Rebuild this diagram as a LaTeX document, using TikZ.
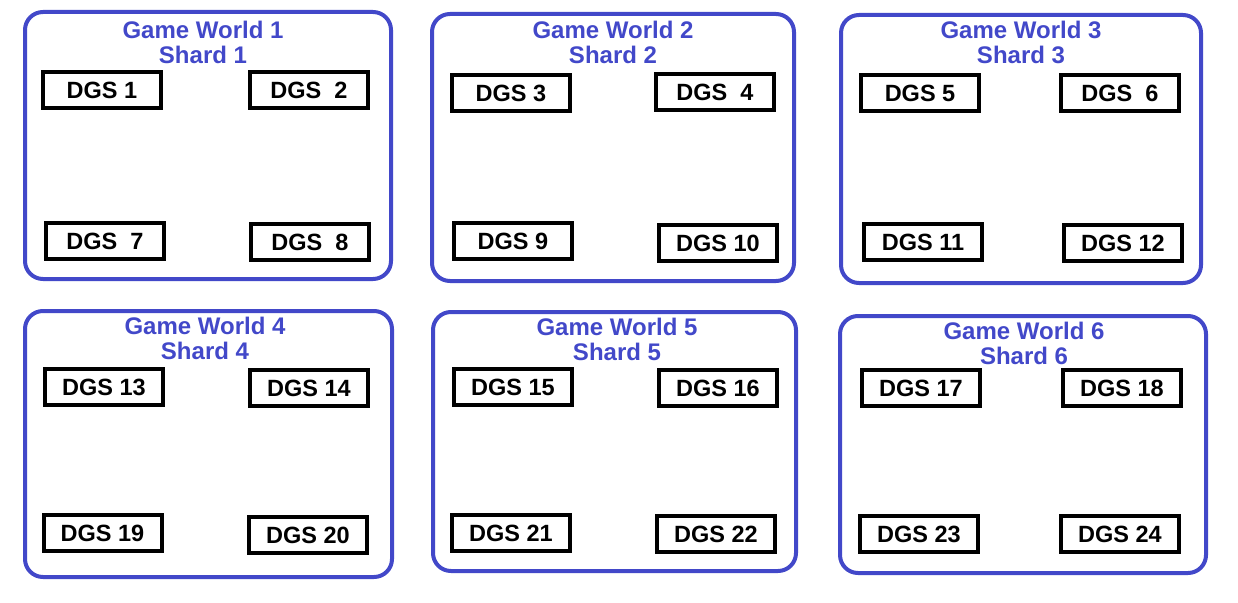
\documentclass[tikz,border=0pt]{standalone}
\usepackage{fontspec}
\setmainfont{Liberation Sans}
\definecolor{worldblue}{RGB}{66,72,201}
\tikzset{
  world/.style={draw=worldblue, line width=4pt, rounded corners=18pt, inner sep=0pt},
  title/.style={text=worldblue, font=\fontsize{24}{25}\selectfont\bfseries, align=center, inner sep=0pt},
  dgs/.style={draw=black, line width=4pt, minimum width=118pt, minimum height=36pt, inner sep=0pt, font=\fontsize{23.5}{24}\selectfont\bfseries}
}
\begin{document}
\begin{tikzpicture}[x=1pt,y=-1pt]
\useasboundingbox (0,0) rectangle (1238,602);
% worlds
\node[world, minimum width=366pt, minimum height=267pt] (gw1) at (208,145.5) {};
\node[world, minimum width=362pt, minimum height=267pt] (gw2) at (613,147.5) {};
\node[world, minimum width=360pt, minimum height=268pt] (gw3) at (1021,149) {};
\node[world, minimum width=367pt, minimum height=266pt] (gw4) at (208.5,444) {};
\node[world, minimum width=363pt, minimum height=259pt] (gw5) at (614.5,441.5) {};
\node[world, minimum width=366pt, minimum height=257pt] (gw6) at (1023,444.5) {};
% titles
\node[title] (t1) at (203,42) {Game World 1\\Shard 1};
\node[title] (t2) at (613,42.5) {Game World 2\\Shard 2};
\node[title] (t3) at (1021,42) {Game World 3\\Shard 3};
\node[title] (t4) at (205,338) {Game World 4\\Shard 4};
\node[title] (t5) at (617,339.5) {Game World 5\\Shard 5};
\node[title] (t6) at (1024,343) {Game World 6\\Shard 6};
% DGS boxes
\node[dgs] (d1) at (102,90) {DGS 1};
\node[dgs] (d2) at (309,90) {DGS\ \ 2};
\node[dgs] (d7) at (105,241) {DGS\ \ 7};
\node[dgs] (d8) at (310,242) {DGS\ \ 8};
\node[dgs] (d3) at (511,93) {DGS 3};
\node[dgs] (d4) at (715,92) {DGS\ \ 4};
\node[dgs] (d9) at (513,241) {DGS 9};
\node[dgs] (d10) at (718,243) {DGS 10};
\node[dgs] (d5) at (920,93) {DGS 5};
\node[dgs] (d6) at (1120,93) {DGS\ \ 6};
\node[dgs] (d11) at (923,242) {DGS 11};
\node[dgs] (d12) at (1123,243) {DGS 12};
\node[dgs] (d13) at (104,387) {DGS 13};
\node[dgs] (d14) at (309,388) {DGS 14};
\node[dgs] (d19) at (102.5,533) {DGS 19};
\node[dgs] (d20) at (308,535) {DGS 20};
\node[dgs] (d15) at (513,387) {DGS 15};
\node[dgs] (d16) at (718,388) {DGS 16};
\node[dgs] (d21) at (511,533) {DGS 21};
\node[dgs] (d22) at (716,534) {DGS 22};
\node[dgs] (d17) at (921,388) {DGS 17};
\node[dgs] (d18) at (1122,388) {DGS 18};
\node[dgs] (d23) at (919,534) {DGS 23};
\node[dgs] (d24) at (1120,534) {DGS 24};
\end{tikzpicture}
\end{document}
